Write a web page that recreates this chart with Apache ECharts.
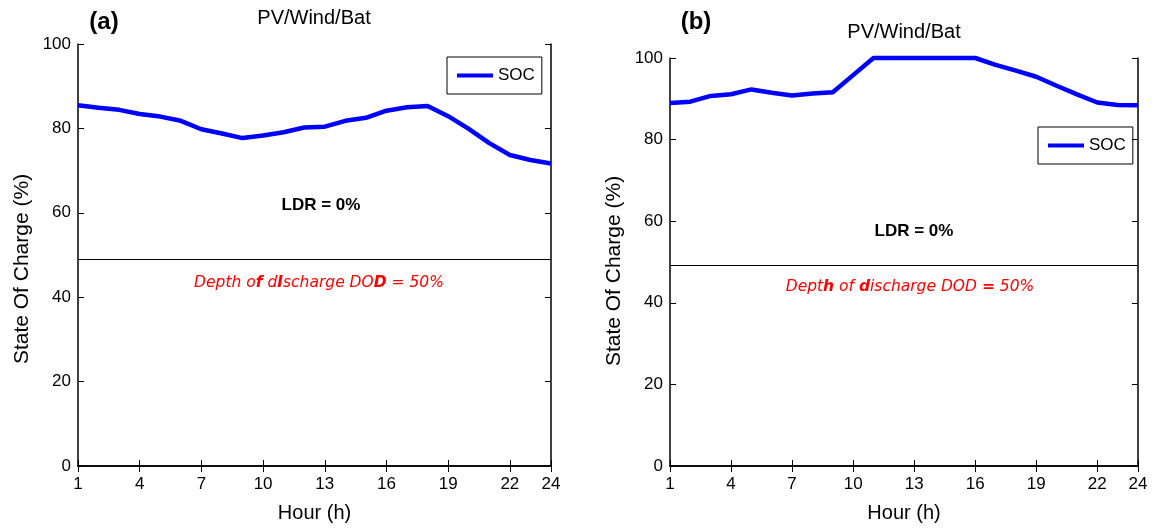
<!DOCTYPE html>
<html>
<head>
<meta charset="utf-8">
<script src="https://cdn.jsdelivr.net/npm/echarts@6/dist/echarts.min.js"></script>
<style>
html,body{margin:0;padding:0;background:#fff;}
#chart{width:1156px;height:528px;}
</style>
</head>
<body>
<div id="chart"></div>
<script>
const hours = ['1','2','3','4','5','6','7','8','9','10','11','12','13','14','15','16','17','18','19','20','21','22','23','24'];
const socA = [85.5,84.9,84.4,83.4,82.8,81.8,79.8,78.8,77.7,78.3,79.1,80.2,80.4,81.8,82.5,84.2,85.0,85.3,82.9,79.9,76.5,73.7,72.5,71.7];
const socB = [89.0,89.3,90.7,91.1,92.3,91.5,90.8,91.3,91.6,95.8,100,100,100,100,100,100,98.3,96.9,95.4,93.2,91.1,89.1,88.5,88.4];
const dodA = 49.0;
const dodB = 49.3;

const FONT = 'Liberation Sans, Arial, Helvetica, sans-serif';
const showTick = (i) => i % 3 === 0 || i === 23;

function xAxes(gridIndex){
  const base = {
    type:'category', data:hours, boundaryGap:false, gridIndex,
    axisLine:{show:true, lineStyle:{color:'#000', width:1.5}},
    axisTick:{show:true, inside:true, length:6, interval:showTick, lineStyle:{color:'#000', width:1}},
    splitLine:{show:false}
  };
  return [
    Object.assign({}, base, {position:'bottom',
      axisLabel:{show:true, interval:showTick, color:'#000', fontSize:17, fontFamily:FONT, margin:10},
      name:'Hour (h)', nameLocation:'middle', nameGap:37,
      nameTextStyle:{color:'#000', fontSize:20, fontFamily:FONT}}),
    Object.assign({}, base, {position:'top', axisLabel:{show:false}})
  ];
}
function yAxes(gridIndex, shiftDown){
  const base = {
    type:'value', min:0, max:100, interval:20, gridIndex,
    axisLine:{show:true, lineStyle:{color:'#000', width:1.5}},
    axisTick:{show:true, inside:true, length:6, lineStyle:{color:'#000', width:1}},
    splitLine:{show:false}
  };
  return [
    Object.assign({}, base, {position:'left',
      axisLabel:{show:true, color:'#000', fontSize:17, fontFamily:FONT, margin:7},
      name:'State Of Charge (%)', nameLocation:'middle', nameGap:45,
      nameTextStyle:{color:'#000', fontSize:21, fontFamily:FONT, padding:[0, shiftDown*2, 0, 0]}}),
    Object.assign({}, base, {position:'right', axisLabel:{show:false}})
  ];
}

function socSeries(name, data, xi, yi, dod){
  return {
    name, type:'line', data, xAxisIndex:xi, yAxisIndex:yi,
    showSymbol:false, symbol:'none', clip:false,
    lineStyle:{color:'#0000ff', width:4.5}, itemStyle:{color:'#0000ff'},
    markLine:{silent:true, symbol:['none','none'], label:{show:false},
      lineStyle:{color:'#000', width:1.2, type:'solid'},
      data:[{yAxis:dod}]}
  };
}

const RFONT = 'DejaVu Sans, Liberation Sans, sans-serif';
const redRich = {
  n:{fill:'#ff0000', fontStyle:'italic', fontSize:15.5, fontFamily:RFONT},
  b:{fill:'#ff0000', fontStyle:'italic', fontWeight:'bold', fontSize:15.5, fontFamily:RFONT}
};

function legendFor(name, left, top){
  return {data:[{name}], left, top, orient:'vertical',
     borderColor:'#000', borderWidth:1, padding:[10,7,10,10],
     icon:'rect', itemWidth:36, itemHeight:4, itemGap:0,
     formatter:()=> 'SOC',
     textStyle:{color:'#000', fontSize:17, fontFamily:FONT, padding:[7,0,0,0]}};
}

const option = {
  backgroundColor:'#fff',
  animation:false,
  grid:[
    {left:78, right:605, top:44, bottom:62, containLabel:false},
    {left:670, right:18, top:58, bottom:62, containLabel:false}
  ],
  xAxis:[...xAxes(0), ...xAxes(1)],
  yAxis:[...yAxes(0, 14), ...yAxes(1, 9)],
  legend:[ legendFor('SOC', 447, 57), legendFor('SOC ', 1038, 127) ],
  series:[
    socSeries('SOC', socA, 0, 0, dodA),
    socSeries('SOC ', socB, 2, 2, dodB)
  ],
  graphic:[
    {type:'text', x:104, y:22, style:{text:'(a)', fill:'#000', font:'bold 24px '+FONT, align:'center', verticalAlign:'middle'}},
    {type:'text', x:696, y:22, style:{text:'(b)', fill:'#000', font:'bold 24px '+FONT, align:'center', verticalAlign:'middle'}},
    {type:'text', x:314, y:18, style:{text:'PV/Wind/Bat', fill:'#000', font:'20px '+FONT, align:'center', verticalAlign:'middle'}},
    {type:'text', x:904, y:32, style:{text:'PV/Wind/Bat', fill:'#000', font:'20px '+FONT, align:'center', verticalAlign:'middle'}},
    {type:'text', x:321, y:205, style:{text:'LDR = 0%', fill:'#000', font:'bold 17px '+FONT, align:'center', verticalAlign:'middle'}},
    {type:'text', x:914, y:231, style:{text:'LDR = 0%', fill:'#000', font:'bold 17px '+FONT, align:'center', verticalAlign:'middle'}},
    {type:'text', x:319, y:283, style:{
      text:'{n|Depth o}{b|f}{n| d}{b|I}{n|scharge DO}{b|D}{n| = 50%}',
      fill:'#ff0000', rich:redRich, align:'center', verticalAlign:'middle'}},
    {type:'text', x:910, y:287, style:{
      text:'{n|Dept}{b|h}{n| of }{b|d}{n|ischarge DOD }{b|=}{n| 50%}',
      fill:'#ff0000', rich:redRich, align:'center', verticalAlign:'middle'}}
  ]
};

const chart = echarts.init(document.getElementById('chart'), null, {renderer:'canvas'});
chart.setOption(option);
</script>
</body>
</html>
